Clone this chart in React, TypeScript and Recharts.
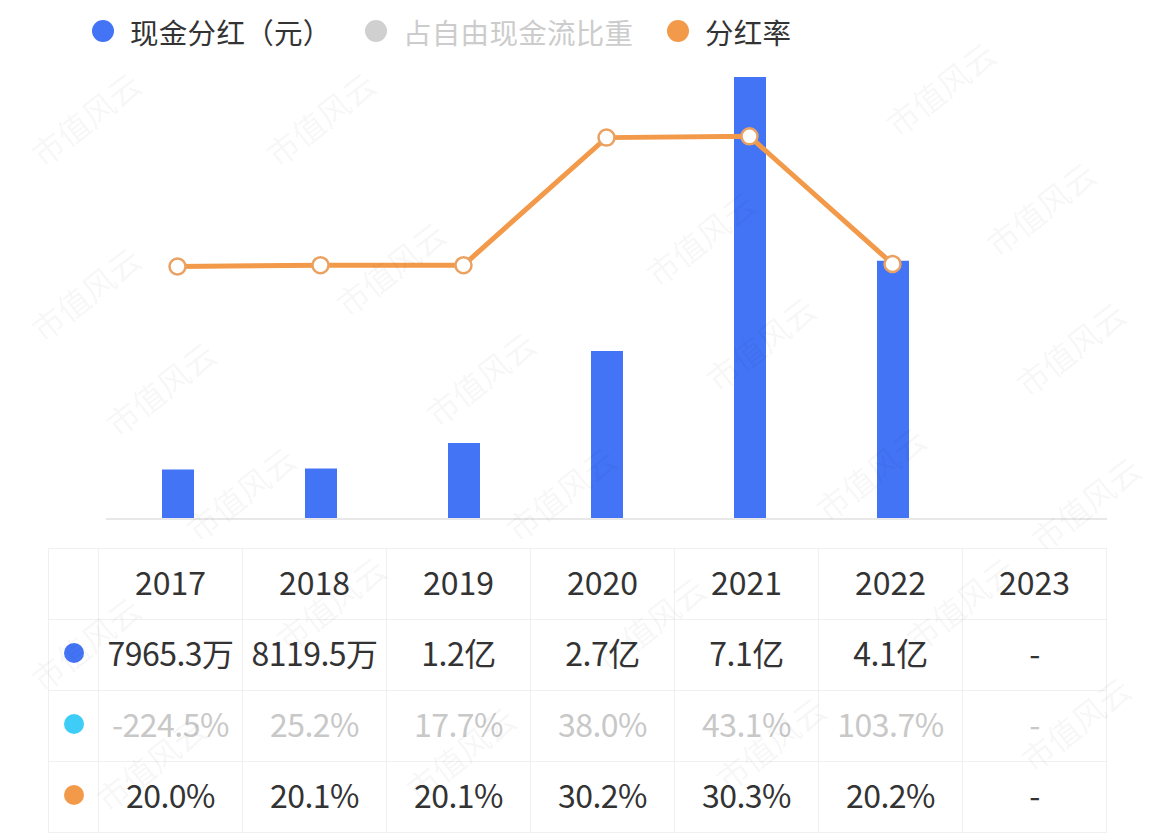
import React from "react";
import {
  ComposedChart,
  Bar,
  Line,
  XAxis,
  YAxis,
  ReferenceLine,
} from "recharts";

// 年份
const years = ["2017", "2018", "2019", "2020", "2021", "2022", "2023"];
// 现金分红（亿元）
const dividend = [0.79653, 0.81195, 1.22, 2.7, 7.1, 4.15, null];
const dividendLabels = ["7965.3万", "8119.5万", "1.2亿", "2.7亿", "7.1亿", "4.1亿", "-"];
// 占自由现金流比重
const fcfShareLabels = ["-224.5%", "25.2%", "17.7%", "38.0%", "43.1%", "103.7%", "-"];
// 分红率（%）
const payoutRatio = [20.0, 20.1, 20.1, 30.2, 30.3, 20.2, null];
const payoutLabels = ["20.0%", "20.1%", "20.1%", "30.2%", "30.3%", "20.2%", "-"];

const BLUE = "#4374F5";
const ORANGE = "#F29A4A";
const CYAN = "#3DCDF7";
const FONT = '"Noto Sans CJK SC", "Noto Sans", sans-serif';

const chartData = years.map((y, i) => ({
  year: y,
  dividend: dividend[i],
  payout: payoutRatio[i],
}));

const watermarks = [
  [85, 115], [320, 115], [700, 235], [940, 85], [1040, 205],
  [85, 290], [390, 265], [160, 385], [480, 375], [760, 340],
  [1070, 345], [240, 490], [560, 490], [870, 470], [1085, 500],
  [85, 640], [330, 600], [650, 620], [960, 600],
  [150, 760], [460, 750], [770, 740], [1075, 720],
];

function Legend() {
  const items = [
    { label: "现金分红（元）", color: BLUE, text: "#333", x: 92 },
    { label: "占自由现金流比重", color: "#D0D0D0", text: "#CCCCCC", x: 365 },
    { label: "分红率", color: ORANGE, text: "#333", x: 667 },
  ];
  return (
    <>
      {items.map((it) => (
        <div
          key={it.label}
          style={{
            position: "absolute",
            left: it.x,
            top: 11,
            height: 40,
            display: "flex",
            alignItems: "center",
            fontFamily: FONT,
            fontSize: 28.5,
            letterSpacing: 0.3,
            color: it.text,
            whiteSpace: "nowrap",
          }}
        >
          <span
            style={{
              width: 22,
              height: 22,
              borderRadius: 11,
              background: it.color,
              display: "inline-block",
              marginRight: 16,
            }}
          />
          {it.label}
        </div>
      ))}
    </>
  );
}

function DataTable() {
  const border = "1px solid #F0F0F0";
  const cell: React.CSSProperties = {
    width: 144,
    height: 71,
    borderLeft: border,
    borderTop: border,
    textAlign: "center",
    fontFamily: FONT,
    fontSize: 32,
    padding: "0 0 7px 0",
    boxSizing: "border-box",
    whiteSpace: "nowrap",
  };
  const first: React.CSSProperties = {
    width: 50,
    height: 71,
    borderTop: border,
    padding: "0 0 4px 0",
    boxSizing: "border-box",
    textAlign: "right",
  };
  const dot = (c: string) => (
    <span
      style={{
        display: "inline-block",
        width: 20,
        height: 20,
        borderRadius: 10,
        background: c,
        marginRight: 14,
        verticalAlign: "middle",
      }}
    />
  );
  const rows = [
    { dot: BLUE, labels: dividendLabels, color: "#333" },
    { dot: CYAN, labels: fcfShareLabels, color: "#C8C8C8" },
    { dot: ORANGE, labels: payoutLabels, color: "#333" },
  ];
  return (
    <table
      style={{
        position: "absolute",
        left: 48,
        top: 548,
        borderCollapse: "collapse",
        tableLayout: "fixed",
        borderLeft: border,
        borderRight: border,
        borderBottom: border,
      }}
    >
      <tbody>
        <tr>
          <td style={first} />
          {years.map((y) => (
            <td key={y} style={{ ...cell, color: "#333" }}>
              {y}
            </td>
          ))}
        </tr>
        {rows.map((r, ri) => (
          <tr key={ri}>
            <td style={first}>{dot(r.dot)}</td>
            {r.labels.map((l, i) => (
              <td key={i} style={{ ...cell, color: r.color, letterSpacing: -0.5 }}>
                {l}
              </td>
            ))}
          </tr>
        ))}
      </tbody>
    </table>
  );
}

export default function App() {
  return (
    <div
      style={{
        position: "absolute",
        left: 0,
        top: 0,
        width: 1154,
        height: 838,
        background: "#fff",
        overflow: "hidden",
      }}
    >
      <Legend />
      <div style={{ position: "absolute", left: 0, top: 0 }}>
        <ComposedChart
          width={1154}
          height={540}
          data={chartData}
          margin={{ top: 77, right: 47, bottom: 21, left: 106 }}
        >
          <XAxis dataKey="year" hide />
          <YAxis yAxisId="bar" domain={[0, 7.1]} hide />
          <YAxis yAxisId="pct" orientation="right" domain={[0, 35]} hide />
          <ReferenceLine yAxisId="bar" y={0} stroke="#E8E8E8" strokeWidth={2} />
          <Bar
            yAxisId="bar"
            dataKey="dividend"
            fill={BLUE}
            barSize={32}
            isAnimationActive={false}
          />
          <Line
            yAxisId="pct"
            type="linear"
            dataKey="payout"
            stroke={ORANGE}
            strokeWidth={5}
            dot={{ r: 8, fill: "#fff", stroke: "#E9A262", strokeWidth: 2.5 }}
            activeDot={false}
            isAnimationActive={false}
          />
        </ComposedChart>
      </div>
      <DataTable />
      {watermarks.map(([x, y], i) => (
        <div
          key={i}
          style={{
            position: "absolute",
            left: x - 70,
            top: y - 20,
            width: 140,
            textAlign: "center",
            transform: "rotate(-38deg)",
            fontFamily: FONT,
            fontSize: 32,
            color: "rgba(0,0,0,0.05)",
            pointerEvents: "none",
            whiteSpace: "nowrap",
          }}
        >
          市值风云
        </div>
      ))}
    </div>
  );
}
